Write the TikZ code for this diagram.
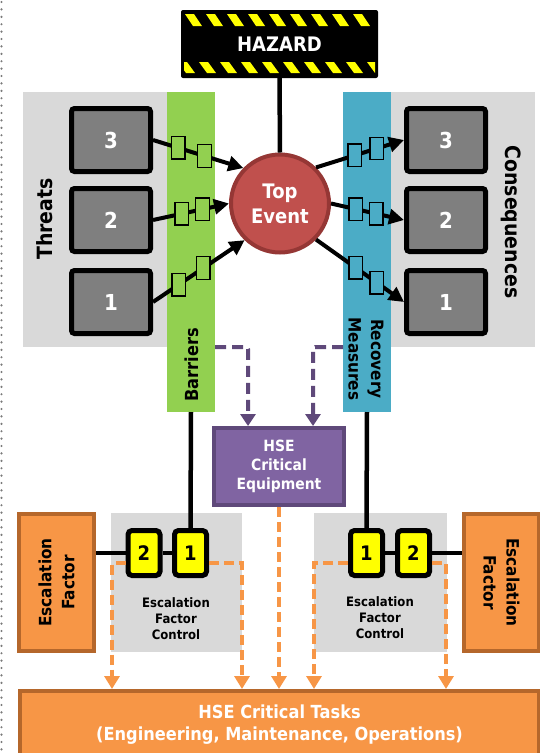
\documentclass[tikz,border=0pt]{standalone}
\usepackage{fontspec}
\setmainfont{DejaVu Sans}[FakeStretch=0.9]
\usetikzlibrary{arrows.meta,calc}
\definecolor{panelgray}{HTML}{D9D9D9}
\definecolor{bargreen}{HTML}{92D050}
\definecolor{barblue}{HTML}{4BACC6}
\definecolor{boxgray}{HTML}{7F7F7F}
\definecolor{evred}{HTML}{C0504D}
\definecolor{evredd}{HTML}{953735}
\definecolor{eqpurple}{HTML}{8064A2}
\definecolor{eqpurpled}{HTML}{5F497A}
\definecolor{esorange}{HTML}{F79646}
\definecolor{esoranged}{HTML}{B5672B}
\definecolor{hazyellow}{HTML}{FFFF00}
\definecolor{dotgray}{HTML}{7A7A7A}
\begin{document}
\begin{tikzpicture}[x=1pt,y=-1pt,
  every node/.style={inner sep=0pt, outer sep=0pt},
  barnode/.style={draw=none, minimum width=48pt, minimum height=320pt},
  numbox/.style={draw=black, fill=boxgray, line width=5pt, rounded corners=3pt,
    minimum width=79pt, minimum height=63pt, outer sep=2.5pt, text=white,
    font=\bfseries\fontsize{22}{26}\selectfont},
  gbar/.style={draw=black, line width=1.3pt, fill=bargreen,
    minimum width=13.5pt, minimum height=22.5pt},
  bbar/.style={gbar, fill=barblue},
  flow/.style={line width=4pt, -{Triangle[length=15pt,width=15pt]}},
  conn/.style={line width=4.5pt},
  pdash/.style={draw=eqpurpled, line width=4pt, dash pattern=on 11pt off 6pt,
    rounded corners=2pt, -{Triangle[length=12pt,width=15pt]}},
  odash/.style={draw=esorange, line width=4pt, dash pattern=on 10pt off 5pt,
    -{Triangle[length=13pt,width=15pt]}},
  ybox/.style={draw=black, fill=hazyellow, line width=5pt, rounded corners=4pt,
    minimum width=32pt, minimum height=45pt, outer sep=2.5pt,
    font=\bfseries\fontsize{20}{24}\selectfont},
  efbox/.style={draw=esoranged, fill=esorange, line width=4pt,
    minimum width=137pt, minimum height=75pt, outer sep=2pt, align=center,
    font=\bfseries\fontsize{17}{23}\selectfont},
  efcbox/.style={fill=panelgray, minimum height=139pt},
  efctext/.style={align=center, font=\bfseries\fontsize{13}{16}\selectfont}
]
\useasboundingbox (0,0) rectangle (539,753);

% dotted margin line
\draw[dotgray, line width=2.4pt, line cap=round, dash pattern=on 0pt off 7.4pt]
  (1.5,2) -- (1.5,753);

% background panels
\fill[panelgray] (23,92) rectangle (167,347);
\fill[panelgray] (391,92) rectangle (535,347);
\node[barnode, fill=bargreen] (gbarbar) at (191,252) {};
\node[barnode, fill=barblue] (bbarbar) at (367,252) {};

% hazard
\node[fill=black, rounded corners=2pt, minimum width=197pt, minimum height=68pt,
  text=white, font=\bfseries\fontsize{20}{24}\selectfont] (haz) at (279.5,44) {HAZARD};
\begin{scope}
  \clip (184,12) rectangle (375,76);
  \foreach \s in {185,206,...,370}
    \fill[hazyellow] (\s,14) -- (\s+9,14) -- (\s+17,26) -- (\s+8,26) -- cycle;
  \foreach \s in {178,199,...,375}
    \fill[hazyellow] (\s,62) -- (\s+9,62) -- (\s+17,73) -- (\s+8,73) -- cycle;
\end{scope}

% top event
\node[circle, fill=evred, draw=evredd, line width=4pt, minimum size=98pt,
  outer sep=2pt, text=white, align=center,
  font=\bfseries\fontsize{20}{25}\selectfont] (top) at (280,203.5) {Top\\Event};
\draw[conn] (haz.south) -- (top.north);

% threats and consequences
\node[numbox] (t3) at (111,140) {3};
\node[numbox] (t2) at (111,220) {2};
\node[numbox] (t1) at (111,302) {1};
\node[numbox] (c3) at (446,140) {3};
\node[numbox] (c2) at (446,220) {2};
\node[numbox] (c1) at (446,302) {1};

\draw[flow] (t3.east) -- node[gbar,pos=0.28] (g31) {} node[gbar,pos=0.57] (g32) {} (top.136);
\draw[flow] (t2.east) -- node[gbar,pos=0.38] (g21) {} node[gbar,pos=0.65] (g22) {} (top.180);
\draw[flow] (t1.east) -- node[gbar,pos=0.28] (g11) {} node[gbar,pos=0.55] (g12) {} (top.226);
\draw[flow] (top.45) -- node[bbar,pos=0.44] (b31) {} node[bbar,pos=0.69] (b32) {} (c3.west);
\draw[flow] (top.0) -- node[bbar,pos=0.34] (b21) {} node[bbar,pos=0.62] (b22) {} (c2.west);
\draw[flow] (top.315) -- node[bbar,pos=0.45] (b11) {} node[bbar,pos=0.69] (b12) {} (c1.west);

% side labels
\node[rotate=90, font=\bfseries\fontsize{21}{25}\selectfont] (lthreats) at (45,219) {Threats};
\node[rotate=-90, font=\bfseries\fontsize{21}{25}\selectfont] (lcons) at (511,222) {Consequences};
\node[rotate=90, font=\bfseries\fontsize{18}{22}\selectfont] (lbarr) at (192,365) {Barriers};
\node[rotate=-90, align=center, font=\bfseries\fontsize{17}{22.5}\selectfont] (lrec) at (366,359) {Recovery\\Measures};

% HSE critical equipment
\node[fill=eqpurple, draw=eqpurpled, line width=4pt, minimum width=130pt,
  minimum height=77pt, outer sep=2pt, text=white, align=center,
  font=\bfseries\fontsize{15.5}{18.7}\selectfont] (hse) at (279,466.5) {HSE\\Critical\\Equipment};
\coordinate (pa) at (215,347);
\coordinate (pb) at (343,347);
\draw[pdash] (pa) -| ([xshift=-31pt]hse.north);
\draw[pdash] (pb) -| ([xshift=34pt]hse.north);

% escalation section
\node[efcbox, minimum width=131pt] (efcl) at (176.5,582.5) {};
\node[efcbox, minimum width=133pt] (efcr) at (380.5,582.5) {};
\node[efctext] (efcltext) at (176,619) {Escalation\\Factor\\Control};
\node[efctext] (efcrtext) at (380,618) {Escalation\\Factor\\Control};

\node[efbox, rotate=90] (efl) at (56.5,582.5) {Escalation\\Factor};
\node[efbox, rotate=-90] (efr) at (501.5,582.5) {Escalation\\Factor};

\node[ybox] (yl2) at (144,553) {2};
\node[ybox] (yl1) at (190.5,553) {1};
\node[ybox] (yr1) at (366.5,553) {1};
\node[ybox] (yr2) at (413.5,553) {2};

\draw[conn] (gbarbar.south) -- (yl1.north);
\draw[conn] (bbarbar.south) -- (yr1.north);
\draw[conn] (efl.south |- yl2.west) -- (yl2.west);
\draw[conn] (yl2.east) -- (yl1.west);
\draw[conn] (yr1.east) -- (yr2.west);
\draw[conn] (yr2.east) -- (yr2.east -| efr.south);

% HSE critical tasks
\node[fill=esorange, draw=esoranged, line width=4pt, minimum width=519pt,
  minimum height=67pt, outer sep=2pt, text=white, align=center,
  font=\bfseries\fontsize{18}{22}\selectfont] (tasks) at (279.5,724.5)
  {HSE Critical Tasks\\(Engineering, Maintenance, Operations)};

\coordinate (oa) at (112,689);
\coordinate (ob) at (242,689);
\coordinate (oc) at (314,689);
\coordinate (od) at (446,689);
\draw[odash] ([yshift=-10pt]yl2.west) -| (oa);
\draw[odash] ([yshift=-10pt]yl1.east) -| (ob);
\draw[odash] (hse.south) -- (hse.south |- tasks.north);
\draw[odash] ([yshift=-10pt]yr1.west) -| (oc);
\draw[odash] ([yshift=-10pt]yr2.east) -| (od);
\end{tikzpicture}
\end{document}
